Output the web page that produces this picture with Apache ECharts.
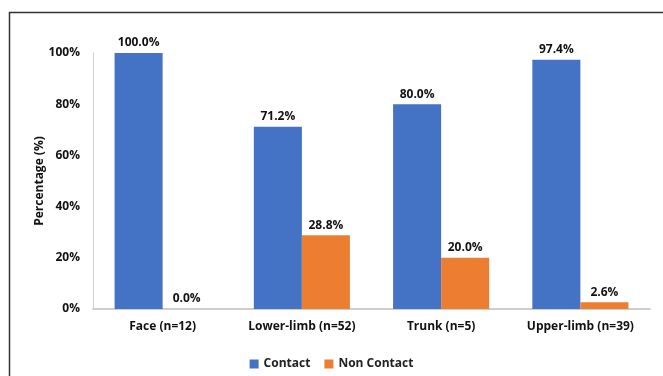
<!DOCTYPE html>
<html>
<head>
<meta charset="utf-8">
<script src="https://cdn.jsdelivr.net/npm/echarts@6/dist/echarts.min.js"></script>
<style>
  html, body { margin: 0; padding: 0; background: #fff; }
  #chart { width: 663px; height: 376px; }
</style>
</head>
<body>
<div id="chart"></div>
<script>
const categories = ['Face (n=12)', 'Lower-limb (n=52)', 'Trunk (n=5)', 'Upper-limb (n=39)'];
const contact = [100.0, 71.2, 80.0, 97.4];
const nonContact = [0.0, 28.8, 20.0, 2.6];

const chart = echarts.init(document.getElementById('chart'));
const font = 'Open Sans, Noto Sans, sans-serif';

const barLabel = {
  show: true,
  position: 'top',
  distance: 4,
  color: '#111',
  fontWeight: 'bold',
  fontSize: 12,
  fontFamily: font,
  formatter: p => p.value.toFixed(1) + '%'
};

chart.setOption({
  backgroundColor: '#fff',
  animation: false,
  graphic: [{
    type: 'rect',
    shape: { x: 9.5, y: 12.5, width: 700, height: 400 },
    style: { fill: 'none', stroke: '#333', lineWidth: 1.5 }
  }],
  grid: { left: 93, right: 13, top: 53, bottom: 67 },
  legend: {
    bottom: 1,
    left: 'center',
    itemWidth: 9,
    itemHeight: 9,
    itemGap: 14,
    icon: 'rect',
    textStyle: { fontSize: 12, fontWeight: 'bold', color: '#222', fontFamily: font }
  },
  xAxis: {
    type: 'category',
    data: categories,
    axisTick: { show: false },
    axisLine: { lineStyle: { color: '#bfbfbf', width: 1.5 } },
    axisLabel: { interval: 0, color: '#111', fontSize: 12, fontWeight: 'bold', fontFamily: font, margin: 12 }
  },
  yAxis: {
    type: 'value',
    min: 0,
    max: 100,
    interval: 20,
    name: 'Percentage (%)',
    nameLocation: 'middle',
    nameGap: 47,
    nameMoveOverlap: false,
    nameTextStyle: { fontSize: 12, fontWeight: 'bold', color: '#111', fontFamily: font },
    axisLine: { show: true, lineStyle: { color: '#d0d0d0' } },
    axisTick: { show: false },
    splitLine: { show: false },
    axisLabel: { color: '#111', fontSize: 12, fontWeight: 'bold', fontFamily: font, margin: 13, formatter: '{value}%' }
  },
  series: [
    {
      name: 'Contact',
      type: 'bar',
      data: contact,
      barGap: '0%',
      barCategoryGap: '31%',
      itemStyle: { color: '#4472C4' },
      label: barLabel
    },
    {
      name: 'Non Contact',
      type: 'bar',
      data: nonContact,
      itemStyle: { color: '#ED7D31' },
      label: barLabel
    }
  ]
});
</script>
</body>
</html>
